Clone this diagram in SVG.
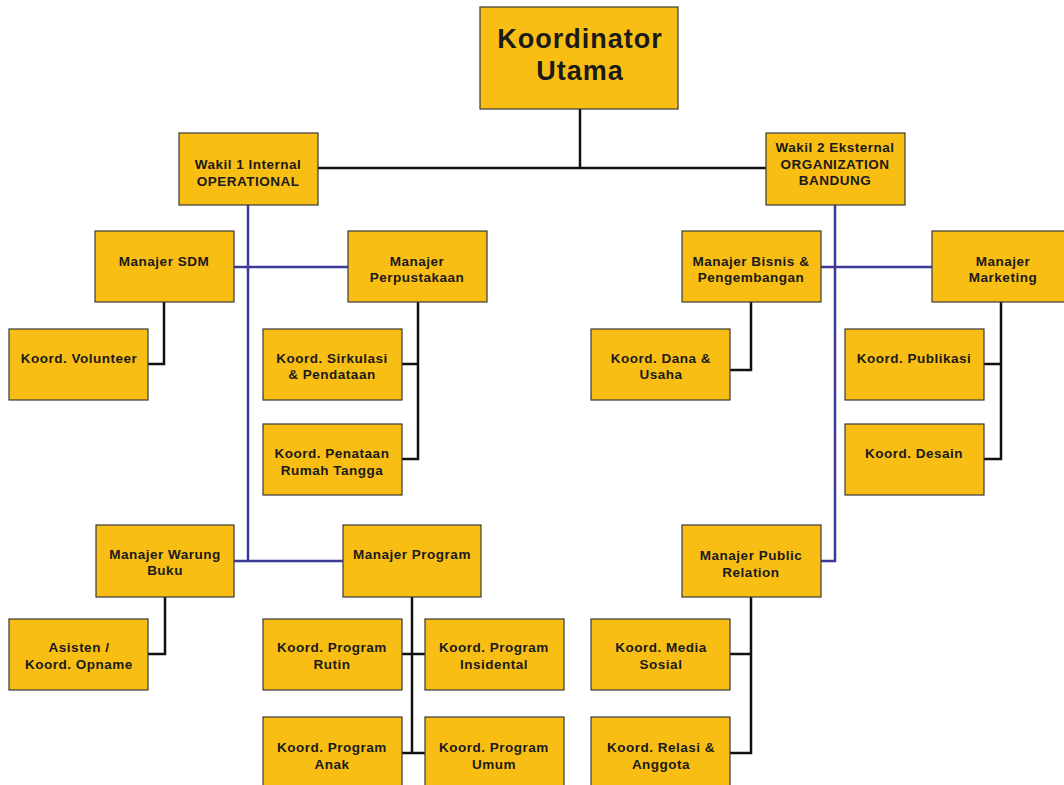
<svg xmlns="http://www.w3.org/2000/svg" width="1064" height="785" viewBox="0 0 1064 785">
<style>
.b{fill:#F8BE14;stroke:#3a3a3a;stroke-width:1.2}
.t{font-family:"Liberation Sans",Arial,sans-serif;font-weight:bold;font-size:13.5px;letter-spacing:0.5px;fill:#1a1a1a;text-anchor:middle}
.big{font-size:27px;letter-spacing:1px}
.k{fill:none;stroke:#111;stroke-width:2.5}
.u{fill:none;stroke:#3a3a9a;stroke-width:2.5}
</style>
<rect width="1064" height="785" fill="#fff"/>
<g id="connectors">
<path class="k" d="M580 109V168M318 168H766"/>
<path class="u" d="M248 205V561M234 267H348M234 561H343"/>
<path class="u" d="M835 205V561H821M821 267H932"/>
<path class="k" d="M164 302V364H148"/>
<path class="k" d="M418 302V459H402M402 364H418"/>
<path class="k" d="M165 597V654H148"/>
<path class="k" d="M412 597V753M402 654H425M402 753H425"/>
<path class="k" d="M751 302V370H730"/>
<path class="k" d="M1001 302V459H984M984 364H1001"/>
<path class="k" d="M751 597V753H730M730 654H751"/>
</g>
<g id="koordinator-utama"><rect class="b" x="480" y="7" width="198" height="102"/><text class="t big" x="580" y="48">Koordinator</text><text class="t big" x="580" y="80">Utama</text></g>
<g id="wakil1"><rect class="b" x="179" y="133" width="139" height="72"/><text class="t" x="248" y="169">Wakil 1 Internal</text><text class="t" x="248" y="186">OPERATIONAL</text></g>
<g id="wakil2"><rect class="b" x="766" y="133" width="139" height="72"/><text class="t" x="835" y="152">Wakil 2 Eksternal</text><text class="t" x="835" y="169">ORGANIZATION</text><text class="t" x="835" y="185">BANDUNG</text></g>
<g id="manajer-sdm"><rect class="b" x="95" y="231" width="139" height="71"/><text class="t" x="164" y="266">Manajer SDM</text></g>
<g id="manajer-perpustakaan"><rect class="b" x="348" y="231" width="139" height="71"/><text class="t" x="417" y="266">Manajer</text><text class="t" x="417" y="282">Perpustakaan</text></g>
<g id="koord-volunteer"><rect class="b" x="9" y="329" width="139" height="71"/><text class="t" x="79" y="363">Koord. Volunteer</text></g>
<g id="koord-sirkulasi"><rect class="b" x="263" y="329" width="139" height="71"/><text class="t" x="332" y="363">Koord. Sirkulasi</text><text class="t" x="332" y="379">&amp; Pendataan</text></g>
<g id="koord-penataan"><rect class="b" x="263" y="424" width="139" height="71"/><text class="t" x="332" y="458">Koord. Penataan</text><text class="t" x="332" y="475">Rumah Tangga</text></g>
<g id="manajer-warung-buku"><rect class="b" x="96" y="525" width="138" height="72"/><text class="t" x="165" y="559">Manajer Warung</text><text class="t" x="165" y="575">Buku</text></g>
<g id="manajer-program"><rect class="b" x="343" y="525" width="138" height="72"/><text class="t" x="412" y="559">Manajer Program</text></g>
<g id="asisten"><rect class="b" x="9" y="619" width="139" height="71"/><text class="t" x="79" y="652">Asisten /</text><text class="t" x="79" y="669">Koord. Opname</text></g>
<g id="koord-program-rutin"><rect class="b" x="263" y="619" width="139" height="71"/><text class="t" x="332" y="652">Koord. Program</text><text class="t" x="332" y="669">Rutin</text></g>
<g id="koord-program-insidental"><rect class="b" x="425" y="619" width="139" height="71"/><text class="t" x="494" y="652">Koord. Program</text><text class="t" x="494" y="669">Insidental</text></g>
<g id="koord-program-anak"><rect class="b" x="263" y="717" width="139" height="75"/><text class="t" x="332" y="752">Koord. Program</text><text class="t" x="332" y="769">Anak</text></g>
<g id="koord-program-umum"><rect class="b" x="425" y="717" width="139" height="75"/><text class="t" x="494" y="752">Koord. Program</text><text class="t" x="494" y="769">Umum</text></g>
<g id="manajer-bisnis"><rect class="b" x="682" y="231" width="139" height="71"/><text class="t" x="751" y="266">Manajer Bisnis &amp;</text><text class="t" x="751" y="282">Pengembangan</text></g>
<g id="manajer-marketing"><rect class="b" x="932" y="231" width="139" height="71"/><text class="t" x="1003" y="266">Manajer</text><text class="t" x="1003" y="282">Marketing</text></g>
<g id="koord-dana"><rect class="b" x="591" y="329" width="139" height="71"/><text class="t" x="661" y="363">Koord. Dana &amp;</text><text class="t" x="661" y="379">Usaha</text></g>
<g id="koord-publikasi"><rect class="b" x="845" y="329" width="139" height="71"/><text class="t" x="914" y="363">Koord. Publikasi</text></g>
<g id="koord-desain"><rect class="b" x="845" y="424" width="139" height="71"/><text class="t" x="914" y="458">Koord. Desain</text></g>
<g id="manajer-public-relation"><rect class="b" x="682" y="525" width="139" height="72"/><text class="t" x="751" y="560">Manajer Public</text><text class="t" x="751" y="577">Relation</text></g>
<g id="koord-media-sosial"><rect class="b" x="591" y="619" width="139" height="71"/><text class="t" x="661" y="652">Koord. Media</text><text class="t" x="661" y="669">Sosial</text></g>
<g id="koord-relasi"><rect class="b" x="591" y="717" width="139" height="75"/><text class="t" x="661" y="752">Koord. Relasi &amp;</text><text class="t" x="661" y="769">Anggota</text></g>
</svg>
